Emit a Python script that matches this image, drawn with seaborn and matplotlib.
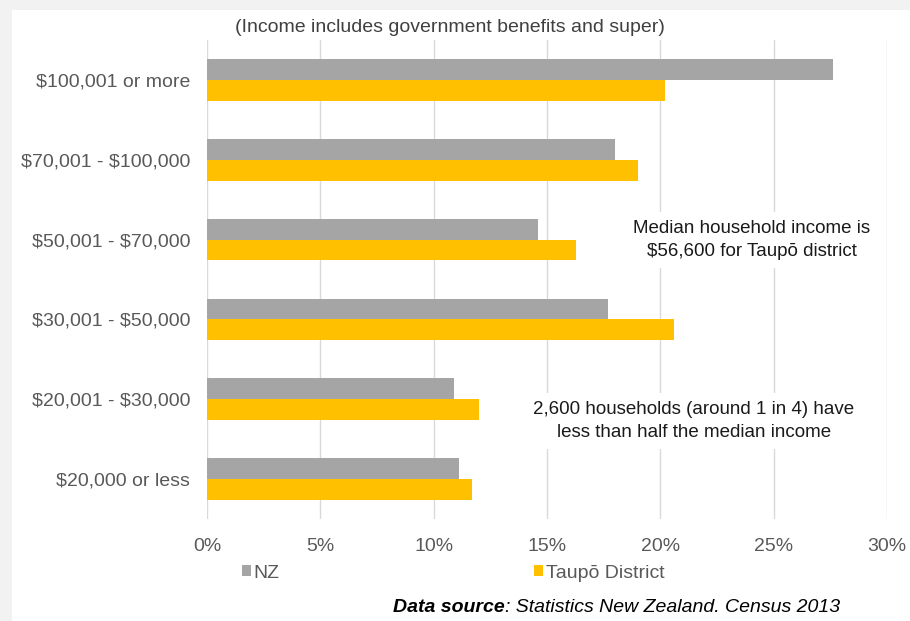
import matplotlib
matplotlib.use('Agg')
import matplotlib.pyplot as plt
import numpy as np
import pandas as pd
import seaborn as sns
from matplotlib.patches import Rectangle
from matplotlib.ticker import PercentFormatter

# income bands, top to bottom
bands = ['$100,001 or more', '$70,001 - $100,000', '$50,001 - $70,000',
         '$30,001 - $50,000', '$20,001 - $30,000', '$20,000 or less']
nz = [27.6, 18.0, 14.6, 17.7, 10.9, 11.1]
taupo = [20.2, 19.0, 16.3, 20.6, 12.0, 11.7]
series = ['NZ', 'Taupō District']
colors = ['#A5A5A5', '#FFC000']
x_ticks = [0, 5, 10, 15, 20, 25, 30]

df = pd.DataFrame({
    'band': bands * 2,
    'share': nz + taupo,
    'area': [series[0]] * len(bands) + [series[1]] * len(bands),
})

sns.set_theme(style='white')
plt.rcParams['font.family'] = ['Liberation Sans', 'DejaVu Sans']
plt.rcParams['text.parse_math'] = False  # dollar signs are literal
fs = 14

fig = plt.figure(figsize=(9.1, 6.21), dpi=100, facecolor='#F2F2F2')
# white card over the light grey page
fig.patches.append(Rectangle((12 / 910, 0), 1, 1 - 10 / 621, transform=fig.transFigure,
                             facecolor='white', edgecolor='none', zorder=-10))

ax = fig.add_axes([207 / 910, 1 - 519 / 621, 680 / 910, 479 / 621])
ax.set_zorder(2)
ax.set_facecolor('none')

sns.barplot(data=df, y='band', x='share', hue='area', hue_order=series,
            palette=colors, orient='h', width=0.52, saturation=1, linewidth=0,
            ax=ax, legend=True)

ax.set_xlim(0, 30)
ax.set_xticks(x_ticks)
ax.xaxis.set_major_formatter(PercentFormatter(decimals=0))
ax.grid(axis='x', color='#D9D9D9', linewidth=1)
ax.set_axisbelow(True)
for s in ax.spines.values():
    s.set_visible(False)
ax.set_xlabel('')
ax.set_ylabel('')
ax.tick_params(axis='y', length=0, pad=12, labelsize=fs, labelcolor='#595959')
ax.tick_params(axis='x', length=0, pad=14, labelsize=fs, labelcolor='#595959')

# legend below the axis
handles, labels = ax.get_legend_handles_labels()
ax.legend(handles, labels, ncol=2, loc='center left', bbox_to_anchor=(242 / 910, 1 - 573 / 621),
          bbox_transform=fig.transFigure, frameon=False, fontsize=fs, labelcolor='#595959',
          handlelength=0.45, handleheight=0.45, handletextpad=0.15, columnspacing=13.1,
          borderpad=0, borderaxespad=0)

fig.text(450 / 910, 1 - 27 / 621, '(Income includes government benefits and super)',
         ha='center', va='center', fontsize=fs, color='#404040', zorder=3)

box = dict(facecolor='white', edgecolor='none', pad=6)
ax.text(752 / 910, 1 - 240 / 621, 'Median household income is\n$56,600 for Taupō district',
        transform=fig.transFigure, ha='center', va='center', fontsize=13.5, color='#1A1A1A',
        linespacing=1.45, bbox=box, zorder=5)
ax.text(694 / 910, 1 - 421 / 621, '2,600 households (around 1 in 4) have\nless than half the median income',
        transform=fig.transFigure, ha='center', va='center', fontsize=13.5, color='#1A1A1A',
        linespacing=1.45, bbox=box, zorder=5)

src = fig.text(393 / 910, 1 - 607 / 621, 'Data source', ha='left', va='center',
               fontsize=fs, fontweight='bold', fontstyle='italic', color='black', zorder=3)
ax.annotate(': Statistics New Zealand. Census 2013', xy=(1, 0), xycoords=src,
            ha='left', va='bottom', fontsize=fs, fontstyle='italic', color='black',
            annotation_clip=False)

fig.savefig('out.png', dpi=100, facecolor=fig.get_facecolor())
